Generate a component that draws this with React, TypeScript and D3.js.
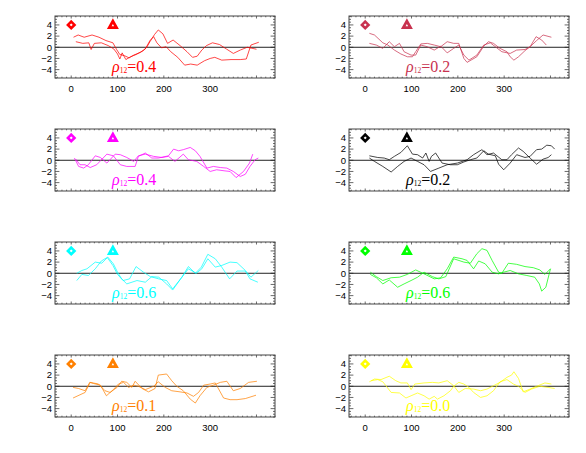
import React from "react";
import * as d3 from "d3";

// two realisations per panel, [longitude, value]
const redA = [[5,1.8],[15,2.2],[28,1.8],[45,2.2],[60,1.8],[75,1.2],[90,0.8],[98,-0.4],[105,-1.3],[115,-1.5],[125,-1.9],[135,-1.4],[150,-0.9],[160,-0.3],[170,1.2],[178,1.9],[185,0.8],[195,-0.1],[205,0.1],[215,-0.8],[230,-1.8],[245,-3.2],[258,-3.0],[272,-3.2],[288,-2.4],[300,-2.0],[310,-1.8],[325,-2.3],[345,-2.2],[365,-2.2],[378,-2.1],[388,0.4],[405,0.9]];
const redB = [[10,1.0],[25,0.7],[38,0.8],[43,-0.4],[50,0.7],[65,0.8],[80,0.3],[92,-0.3],[100,-1.2],[105,-2.1],[110,-1.0],[118,-2.2],[128,-1.7],[140,-1.3],[155,-0.6],[163,0],[170,1.0],[180,2.3],[188,3.1],[198,2.4],[208,0.7],[220,1.3],[235,0.3],[250,-0.8],[262,-1.8],[272,-1.6],[282,-0.5],[292,0.3],[305,0.8],[320,0.5],[335,-0.3],[350,-1.1],[365,-0.5],[380,0],[400,-0.35]];

const crimsonA = [[9,2.5],[20,2.2],[38,0.8],[49,0.4],[63,-0.5],[77,-1.2],[91,-1.7],[102,-1.7],[109,-0.8],[120,0.6],[134,0.7],[149,0.4],[163,0.1],[177,1.0],[191,0.7],[202,0.7],[213,-2.0],[220,-2.7],[241,-1.7],[256,0.2],[266,1.0],[277,0.7],[291,-0.2],[306,-0.8],[313,-1.7],[321,-2.3],[331,-1.7],[345,-0.6],[356,0.1],[369,1.9],[381,1.3],[391,0.4]];
const crimsonB = [[9,0.7],[24,0.4],[38,-0.2],[52,1.0],[63,0.1],[74,0.7],[84,-0.8],[99,-1.4],[109,-1.4],[120,0.4],[134,0.1],[149,-0.5],[163,0.2],[177,-1.0],[191,-0.2],[202,0.4],[213,-1.4],[224,-2.3],[241,-1.4],[256,0.4],[270,0.8],[281,0.1],[295,-0.8],[313,-1.1],[327,-0.5],[345,-0.4],[356,0.1],[370,1.2],[384,2.2],[402,1.8]];

const magentaA = [[7,0.4],[16,-1.1],[27,-1.4],[37,-0.8],[52,0.8],[63,0.5],[77,-0.5],[95,1.1],[106,1.0],[120,0.5],[135,-0.2],[145,0.8],[160,1.1],[178,0.7],[196,0.5],[210,0.7],[224,-0.2],[242,1.1],[253,0.1],[271,-0.2],[286,-1.1],[300,-2.0],[314,-1.7],[332,-1.9],[343,-2.0],[356,-3.1],[372,-2.0],[385,-0.5],[392,1.1]];
const magentaB = [[10,0.2],[19,-0.8],[30,-0.8],[41,-1.3],[55,-0.8],[77,1.1],[91,0.8],[106,-0.8],[120,-1.1],[138,-1.1],[145,0.7],[160,1.3],[174,0.4],[188,0.4],[210,0.8],[221,2.0],[232,1.7],[242,1.9],[257,2.3],[268,1.7],[278,0.7],[293,-1.4],[307,-1.1],[322,-1.3],[336,-1.4],[350,-2.0],[365,-2.9],[376,-2.5],[386,-1.1],[397,0.1],[404,0.4]];

const blackA = [[9,0.8],[27,0.5],[41,0.4],[52,0.1],[63,0.7],[77,1.4],[91,2.6],[102,1.1],[113,1.0],[124,0.4],[131,1.3],[138,-0.2],[143,0.7],[152,1.3],[166,-0.5],[184,-0.8],[199,-0.8],[213,-0.3],[227,0.1],[241,0.4],[256,1.7],[266,1.1],[281,0.8],[288,-0.7],[299,-1.7],[313,-0.5],[327,1.0],[345,0.5],[356,0.7],[370,1.9],[381,2.0],[392,2.7],[402,2.6],[409,2.0]];
const blackB = [[9,0.4],[20,-0.2],[38,-1.1],[56,-2.1],[70,-1.1],[84,-0.2],[99,0.4],[113,-0.2],[127,-0.8],[141,-2.0],[159,-1.4],[177,-0.8],[199,-0.5],[220,0.1],[234,1.0],[252,1.9],[263,1.0],[277,1.3],[295,0.1],[306,0.1],[316,1.0],[331,2.2],[341,1.6],[356,0.4],[370,-0.7],[384,0.2],[395,0.5],[402,1.0]];

const cyanA = [[12,0],[23,0.5],[34,0.8],[52,2.0],[66,1.8],[78,2.8],[90,1.4],[100,-0.2],[112,-1.3],[126,-1.0],[140,1.2],[156,0.2],[171,-0.6],[189,-1.0],[206,-1.3],[219,-2.8],[239,-0.7],[253,1.2],[268,0],[281,1.1],[295,3.4],[311,2.6],[325,1.1],[342,-1.0],[358,0.4],[376,0.4],[386,-1.0],[403,-1.6]];
const cyanB = [[12,-1.3],[23,-0.2],[37,-0.4],[52,0.8],[65,2.2],[79,2.9],[91,1.7],[100,0.2],[109,-1.0],[120,-1.9],[142,-1.3],[160,-1.6],[174,-0.6],[189,-0.7],[206,-1.9],[219,-3.0],[239,-0.7],[253,0.8],[270,0],[282,0.8],[295,2.6],[311,1.1],[325,1.4],[343,2.0],[358,1.9],[376,0.5],[388,-0.7],[404,0.5]];

const greenA = [[11,0.2],[24,-0.6],[38,-1.3],[56,-0.8],[74,-0.7],[91,-0.2],[109,0.6],[127,-0.1],[149,-1.0],[163,-0.8],[177,0.8],[191,2.9],[209,2.6],[220,2.3],[234,0.8],[245,2.2],[259,1.7],[274,0.2],[288,-0.1],[299,0.2],[313,0.5],[331,-0.1],[349,-0.4],[366,-0.7],[376,-1.9],[381,-3.2],[390,-2.5],[400,0.8]];
const greenB = [[11,-0.2],[24,-0.8],[38,-1.9],[52,-1.2],[70,-2.5],[84,-1.9],[99,-1.3],[113,-0.7],[127,0.2],[145,-0.6],[159,-1.0],[174,-0.6],[191,2.6],[213,2.0],[227,1.8],[241,3.5],[252,4.4],[263,4.1],[274,2.3],[288,0.2],[295,0],[309,1.8],[327,1.6],[345,1.2],[363,1.0],[377,0.6],[388,-0.2],[400,0.8]];

const orangeA = [[4,-0.2],[16,-0.4],[30,-0.8],[40,0.7],[48,0.5],[63,0.2],[76,-1.7],[91,-0.6],[102,0.4],[113,0.7],[124,-0.2],[135,0.2],[145,0],[160,-0.6],[178,0],[188,0.8],[203,-0.2],[217,-0.8],[235,-1.0],[250,-1.2],[264,-1.8],[275,-1.1],[286,0.2],[300,0.4],[311,0.6],[329,-2.1],[343,-2.4],[358,-2.4],[376,-2.2],[399,-1.6]];
const orangeB = [[4,-2.1],[30,-1.1],[41,0.7],[59,0.4],[73,-0.8],[84,-1.1],[99,-0.2],[109,0.9],[120,0.7],[131,-0.2],[138,0.9],[153,-0.4],[167,-1.0],[181,-0.4],[188,2.0],[206,2.2],[217,1.0],[228,0],[242,-0.8],[257,-2.3],[268,-3.0],[278,-1.7],[293,-0.2],[307,0.2],[322,0.7],[336,0.9],[350,-0.8],[365,-0.4],[383,0.7],[401,0.9]];

const yellowA = [[9,0.8],[20,1.3],[34,1.2],[52,1.8],[66,1.0],[77,0.6],[91,0.6],[99,-0.6],[107,0.4],[127,0.6],[145,0.7],[159,0.6],[177,1.0],[191,0.1],[202,-1.1],[216,-0.4],[234,-0.5],[249,-0.8],[263,-0.5],[277,0.1],[291,0.7],[306,1.6],[316,2.0],[321,2.6],[331,1.4],[341,-1.0],[356,-0.5],[370,0],[388,0.6],[402,0.4]];
const yellowB = [[13,1.0],[27,1.2],[38,0.8],[56,-1.1],[74,-1.2],[88,-2.1],[99,-1.7],[113,-1.2],[127,-1.7],[138,-2.3],[149,-1.8],[156,-2.3],[170,-1.7],[184,-0.8],[191,0],[202,0.7],[213,0.4],[224,-0.2],[234,-1.1],[249,-2.0],[263,-1.7],[277,-0.8],[291,0.8],[306,1.2],[320,0.4],[331,0],[345,-1.1],[359,-0.5],[377,0],[395,-0.2],[409,-0.4]];

const panelSeries = [
  [redA, redB], [crimsonA, crimsonB],
  [magentaA, magentaB], [blackA, blackB],
  [cyanA, cyanB], [greenA, greenB],
  [orangeA, orangeB], [yellowA, yellowB],
];
const panelColors = ["#ff0000", "#c8324f", "#ff00ff", "#000000", "#00ffff", "#00ff00", "#ff8000", "#ffff00"];
const rhoLabels = ["0.4", "0.2", "0.4", "0.2", "0.6", "0.6", "0.1", "0.0"];

const xTicks = [0, 100, 200, 300];
const yTicks = [-4, -2, 0, 2, 4];
const diamondAt = [0, 4];
const triangleAt = [90, 4];
const labelAt = [88, -4.45];

const W = 586, H = 453;
const boxW = 220, boxH = 62;
const colX = [55, 349];
const rowY = [16, 129, 242, 355];

function Panel({ idx }: { idx: number }) {
  const left = colX[idx % 2];
  const top = rowY[Math.floor(idx / 2)];
  const color = panelColors[idx];
  const showX = idx < 2 || idx > 5;

  const x = d3.scaleLinear().domain([-35, 440]).range([left, left + boxW]);
  const y = d3.scaleLinear().domain([-5.5, 5.6]).range([top + boxH, top]);
  const line = d3.line<number[]>().x(d => x(d[0])).y(d => y(d[1]));

  const xMinor = d3.range(-30, 441, 10);
  const yMinor = d3.range(-5.5, 5.6, 0.5);
  const axisColor = "#444";
  const [dx, dy] = [x(diamondAt[0]), y(diamondAt[1])];
  const [tx, ty] = [x(triangleAt[0]), y(triangleAt[1])];

  return (
    <g>
      {/* minor / major ticks */}
      {xMinor.map(v => {
        const major = v % 100 === 0;
        const len = major ? 2.5 : 1.3;
        return (
          <g key={"x" + v} stroke={axisColor} strokeWidth={0.8}>
            <line x1={x(v)} x2={x(v)} y1={top + boxH} y2={top + boxH - len} />
            <line x1={x(v)} x2={x(v)} y1={top} y2={top + len} />
          </g>
        );
      })}
      {yMinor.map(v => {
        const major = Math.abs(v % 2) < 1e-9;
        const len = major ? 4.4 : 2;
        return (
          <g key={"y" + v} stroke={axisColor} strokeWidth={0.8}>
            <line x1={left} x2={left + len} y1={y(v)} y2={y(v)} />
            <line x1={left + boxW} x2={left + boxW - len} y1={y(v)} y2={y(v)} />
          </g>
        );
      })}
      <rect x={left} y={top} width={boxW} height={boxH} fill="none" stroke={axisColor} strokeWidth={1} />

      {yTicks.map(v => (
        <text key={"yl" + v} x={left - 3} y={y(v) + 3.3} textAnchor="end" fontSize={9.5}
          fontFamily="Liberation Sans, Arial, sans-serif" fill="#000">
          {v < 0 ? "\u2212" + Math.abs(v) : String(v)}
        </text>
      ))}
      {showX && xTicks.map(v => (
        <text key={"xl" + v} x={x(v)} y={top + boxH + 14} textAnchor="middle" fontSize={9.5}
          fontFamily="Liberation Sans, Arial, sans-serif" fill="#000">
          {v}
        </text>
      ))}

      <line x1={left} x2={left + boxW} y1={y(0)} y2={y(0)} stroke="#222" strokeWidth={1} />

      {panelSeries[idx].map((s, i) => (
        <path key={i} d={line(s) ?? ""} fill="none" stroke={color} strokeWidth={0.9} strokeOpacity={0.8} />
      ))}

      <path d={`M${dx},${dy - 3.3}L${dx + 3.3},${dy}L${dx},${dy + 3.3}L${dx - 3.3},${dy}Z`}
        fill="none" stroke={color} strokeWidth={2.6} />
      <path d={`M${tx},${ty - 3.8}L${tx + 3.6},${ty + 2.6}L${tx - 3.6},${ty + 2.6}Z`}
        fill="none" stroke={color} strokeWidth={2.8} strokeLinejoin="miter" />

      <text x={x(labelAt[0])} y={y(labelAt[1])} fill={color}
        fontFamily="Liberation Serif, Times New Roman, serif" fontSize={16}>
        <tspan fontStyle="italic">ρ</tspan>
        <tspan fontSize={7.5} dy={1}>12</tspan>
        <tspan dy={-1}>={rhoLabels[idx]}</tspan>
      </text>
    </g>
  );
}

export default function App() {
  return (
    <svg width={W} height={H} style={{ position: "absolute", left: 0, top: 0, background: "#fff" }}>
      <rect width={W} height={H} fill="#fff" />
      {panelSeries.map((_, i) => <Panel key={i} idx={i} />)}
    </svg>
  );
}
